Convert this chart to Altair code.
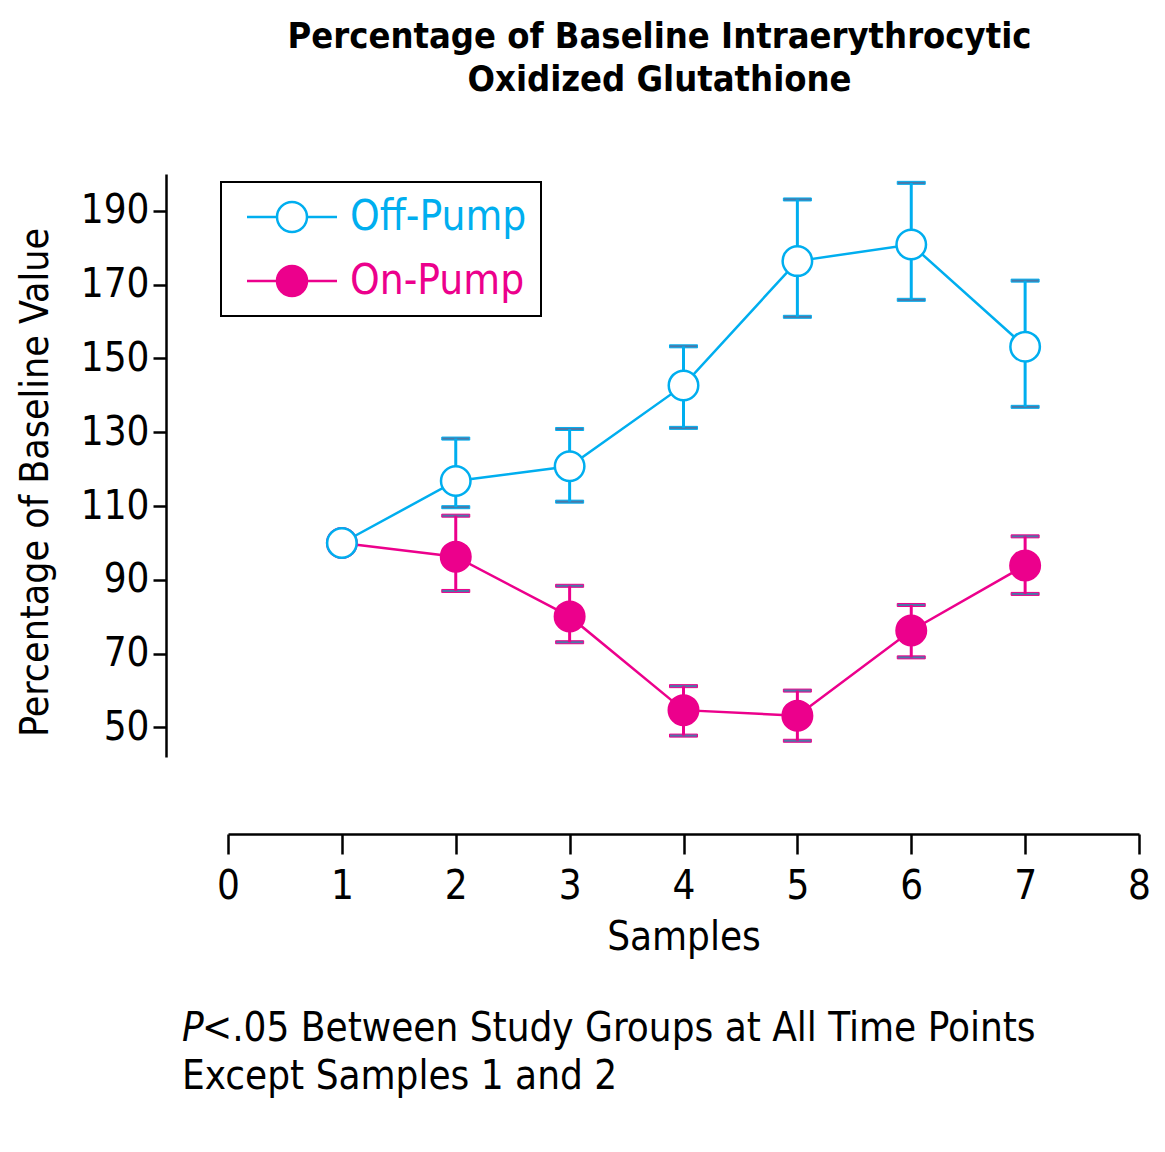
import altair as alt
import pandas as pd

samples = [1, 2, 3, 4, 5, 6, 7]
off_mean = [100, 116.8, 120.8, 142.7, 176.4, 180.9, 153.2]
off_hi = [100, 128.3, 130.9, 153.3, 193.1, 197.6, 171.1]
off_lo = [100, 109.7, 111.2, 131.2, 161.3, 165.9, 136.9]
on_mean = [100, 96.3, 80.1, 54.7, 53.2, 76.3, 93.9]
on_hi = [100, 107.4, 88.4, 61.2, 60.0, 83.2, 101.8]
on_lo = [100, 87.0, 73.1, 47.8, 46.4, 69.0, 86.2]
groups = ["Off-Pump", "On-Pump"]
colors = ["#00aeef", "#ec008c"]
fills = ["#ffffff", "#ec008c"]
x_ticks = [0, 1, 2, 3, 4, 5, 6, 7, 8]
y_ticks = [50, 70, 90, 110, 130, 150, 170, 190]

rows = []
# On-Pump rows first so the open Off-Pump circle is drawn on top at sample 1
for i, s in enumerate(samples):
    rows.append({"sample": s, "group": groups[1], "mean": on_mean[i], "lo": on_lo[i], "hi": on_hi[i]})
for i, s in enumerate(samples):
    rows.append({"sample": s, "group": groups[0], "mean": off_mean[i], "lo": off_lo[i], "hi": off_hi[i]})
df = pd.DataFrame(rows)
err_df = df[df["sample"] > 1]

FONT = "DejaVu Sans Condensed, DejaVu Sans, sans-serif"

xs = alt.Scale(domain=[0, 8], nice=False, zero=False)
ys = alt.Scale(domain=[42, 200], nice=False, zero=False)
stroke_scale = alt.Scale(domain=groups, range=colors)
fill_scale = alt.Scale(domain=groups, range=fills)

sym_path = "M-3,0L-1,0M1,0L3,0M-1,0A1,1,0,1,0,1,0A1,1,0,1,0,-1,0Z"

legend = alt.Legend(
    title=None, orient="none", legendX=-7, legendY=8,
    symbolType=sym_path, symbolSize=900, symbolStrokeWidth=2.5,
    symbolOffset=36, symbolOpacity=1,
    symbolFillColor={"expr": "datum.value == 'Off-Pump' ? '#ffffff' : '#ec008c'"},
    labelFont=FONT, labelFontSize=42, labelOffset=37, labelLimit=400,
    strokeColor="black", padding=14, rowPadding=22,
    fillColor="white",
    labelColor={"expr": "datum.value == 'Off-Pump' ? '#00aeef' : '#ec008c'"},
)

x_axis = alt.Axis(values=x_ticks, format="d", offset=77, tickSize=20, tickWidth=2.5, domainWidth=2.5,
                  domainColor="black", tickColor="black", labelFontSize=40, labelFont=FONT,
                  labelColor="black", labelPadding=12, title="Samples", titleFont=FONT,
                  titleFontSize=40, titleFontWeight="normal", titleColor="black",
                  titlePadding=11, grid=False, labelFlush=False)
y_axis = alt.Axis(values=y_ticks, format="d", offset=62, tickSize=13, tickWidth=2.5, domainWidth=2.5,
                  domainColor="black", tickColor="black", labelFontSize=40, labelFont=FONT,
                  labelColor="black", labelPadding=4, title="Percentage of Baseline Value",
                  titleFont=FONT, titleFontSize=39, titleFontWeight="normal",
                  titleColor="black", titlePadding=25, titleY=308, grid=False, labelFlush=False)

base = alt.Chart(df)

lines = base.mark_line(strokeWidth=2.5).encode(
    x=alt.X("sample:Q", scale=xs, axis=x_axis),
    y=alt.Y("mean:Q", scale=ys, axis=y_axis),
    stroke=alt.Stroke("group:N", scale=stroke_scale, legend=legend),
    detail="group:N",
)

errs = alt.Chart(err_df).mark_errorbar(
    ticks={"size": 28, "opacity": 1},
    rule={"opacity": 1}, thickness=3, opacity=1,
).encode(
    x=alt.X("sample:Q", scale=xs, axis=x_axis),
    y=alt.Y("lo:Q", scale=ys, axis=y_axis),
    y2="hi:Q",
    stroke=alt.Stroke("group:N", scale=stroke_scale, legend=legend),
)

points = base.mark_point(shape="circle", size=870, strokeWidth=2.5, opacity=1, filled=False).encode(
    x=alt.X("sample:Q", scale=xs, axis=x_axis),
    y=alt.Y("mean:Q", scale=ys, axis=y_axis),
    stroke=alt.Stroke("group:N", scale=stroke_scale, legend=legend),
    fill=alt.Fill("group:N", scale=fill_scale, legend=None),
)

note_p = alt.Chart(pd.DataFrame({"t": ["P"]})).mark_text(
    font=FONT, fontSize=40, fontStyle="italic", align="left", baseline="middle", color="black"
).encode(x=alt.value(-46), y=alt.value(855), text="t:N")
note_1 = alt.Chart(pd.DataFrame({"t": ["<.05 Between Study Groups at All Time Points"]})).mark_text(
    font=FONT, fontSize=40, align="left", baseline="middle", color="black"
).encode(x=alt.value(-26), y=alt.value(855), text="t:N")
note_2 = alt.Chart(pd.DataFrame({"t": ["Except Samples 1 and 2"]})).mark_text(
    font=FONT, fontSize=40, align="left", baseline="middle", color="black"
).encode(x=alt.value(-46), y=alt.value(903), text="t:N")

chart = alt.layer(lines, errs, points, note_p, note_1, note_2).resolve_legend(
    stroke="shared"
).properties(
    width=911, height=583,
    padding={"left": 8, "top": 11, "right": 5, "bottom": 5},
    title=alt.Title(["Percentage of Baseline Intraerythrocytic", "Oxidized Glutathione"],
                    font=FONT, fontSize=36, fontWeight="bold", color="black",
                    anchor="middle", offset=75, dx=-24, lineHeight=43),
).configure(background="white").configure_view(stroke=None).configure_legend(strokeWidth=2)

chart.save("out.html", embed_options={"renderer": "svg", "actions": False})
